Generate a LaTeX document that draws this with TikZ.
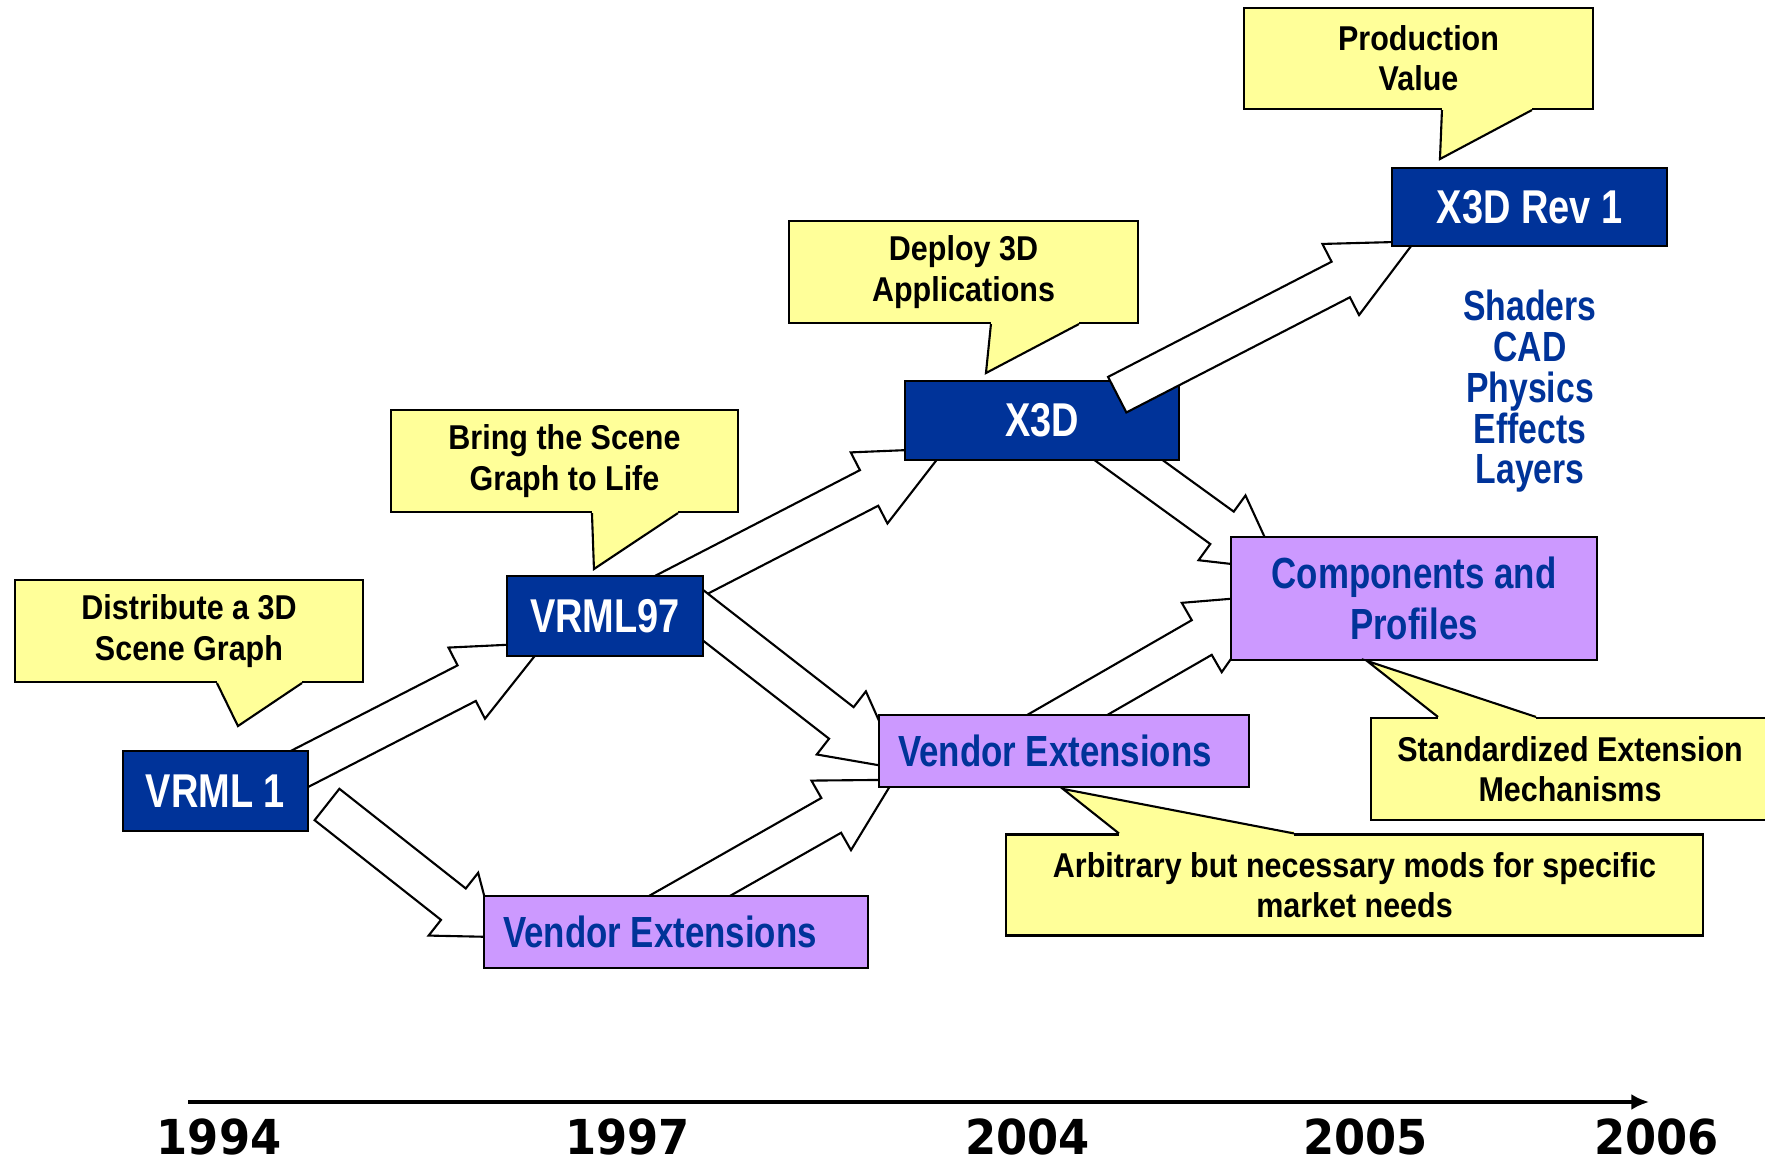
\documentclass[tikz,border=0pt]{standalone}
\usepackage{fontspec}
\usepackage{tikz}
\usetikzlibrary{arrows.meta,positioning,calc}

\newfontfamily\narrowfont{Liberation Sans}[FakeStretch=0.8]
\newfontfamily\notefont{Liberation Sans}[FakeStretch=0.885]
\newfontfamily\yearfont{DejaVu Sans}[FakeStretch=0.93]

\definecolor{stageblue}{HTML}{003399}
\definecolor{extpurple}{HTML}{CC99FF}
\definecolor{noteyellow}{HTML}{FFFF99}

\pgfdeclarelayer{back}
\pgfdeclarelayer{front}
\pgfsetlayers{back,main,front}

\tikzset{
  stagebox/.style={rectangle, draw, line width=0.7pt, fill=stageblue, text=white, inner sep=0pt,
    font=\narrowfont\bfseries\fontsize{13.5}{16}\selectfont},
  extbox/.style={rectangle, draw, line width=0.7pt, fill=extpurple, text=stageblue, inner sep=0pt,
    align=center, font=\narrowfont\bfseries\fontsize{12.4}{14.7}\selectfont},
  notebox/.style={rectangle, draw, line width=0.6pt, fill=noteyellow, inner sep=0pt,
    align=center, font=\notefont\bfseries\fontsize{9.8}{11.5}\selectfont},
  flowarrow/.style={draw, fill=white, line width=0.6pt},
  timeline/.style={line width=0.9pt, -{Latex[length=5pt,width=4.5pt]}},
  yearlabel/.style={anchor=base, inner sep=0pt, font=\yearfont\bfseries\fontsize{13.7}{16}\selectfont},
}

% hollow block arrow: tail, tip, head length
\newcommand{\blockarrow}[3]{%
  \coordinate (ba-s) at #1;
  \coordinate (ba-t) at #2;
  \coordinate (ba-h) at ($(ba-t)!#3!(ba-s)$);
  \draw[flowarrow] ($(ba-s)!0.2cm!90:(ba-t)$) -- ($(ba-h)!0.2cm!-90:(ba-s)$)
    -- ($(ba-h)!0.4cm!-90:(ba-s)$) -- (ba-t) -- ($(ba-h)!0.4cm!90:(ba-s)$)
    -- ($(ba-h)!0.2cm!90:(ba-s)$) -- ($(ba-s)!0.2cm!-90:(ba-t)$) -- cycle;
}

% pointer of a yellow note: base, tip, base
\newcommand{\notepointer}[3]{%
  \fill[noteyellow] #1 -- #2 -- #3 -- cycle;
  \draw[noteyellow, line width=1.2pt] #1 -- #3;
  \draw[line width=0.6pt] #1 -- #2 -- #3;
}

\begin{document}
\begin{tikzpicture}
\useasboundingbox (0,0) rectangle (17.65,11.61);

\node[stagebox, minimum width=1.85cm, minimum height=0.8cm] (vrmlone) at (2.155,3.70) {VRML 1};
\node[stagebox, minimum width=1.96cm, minimum height=0.8cm] (vrmlnine) at (6.05,5.45) {VRML97};
\node[stagebox, minimum width=2.74cm, minimum height=0.79cm] (xthreed) at (10.42,7.405) {X3D};
\begin{pgfonlayer}{front}
\node[stagebox, minimum width=2.75cm, minimum height=0.78cm] (xrev) at (15.295,9.54) {X3D Rev 1};
\end{pgfonlayer}
\node[extbox, minimum width=3.66cm, minimum height=1.23cm] (profiles) at (14.14,5.625) {Components and\\Profiles};
\node[extbox, minimum width=3.70cm, minimum height=0.72cm] (vendmid) at (10.64,4.10) {\hspace*{-0.18cm}Vendor Extensions};
\node[extbox, minimum width=3.84cm, minimum height=0.72cm] (vendlow) at (6.76,2.29) {\hspace*{-0.32cm}Vendor Extensions};

\node[text=stageblue, align=center, font=\narrowfont\bfseries\fontsize{12}{11.6}\selectfont] (features) at (15.30,7.695)
  {Shaders\\CAD\\Physics\\Effects\\Layers};

\node[notebox, minimum width=3.48cm, minimum height=1.02cm] (distrib) at (1.89,5.30) {Distribute a 3D\\Scene Graph};
\notepointer{($(distrib.south west)+(2.03,0)$)}{($(distrib.south west)+(2.24,-0.43)$)}{($(distrib.south west)+(2.88,0)$)}
\node[notebox, minimum width=3.47cm, minimum height=1.02cm] (bringlife) at (5.645,7.00) {Bring the Scene\\Graph to Life};
\notepointer{($(bringlife.south west)+(2.02,0)$)}{($(bringlife.south west)+(2.04,-0.56)$)}{($(bringlife.south west)+(2.88,0)$)}
\node[notebox, minimum width=3.49cm, minimum height=1.02cm] (deploy) at (9.635,8.89) {Deploy 3D\\Applications};
\notepointer{($(deploy.south west)+(2.03,0)$)}{($(deploy.south west)+(1.98,-0.49)$)}{($(deploy.south west)+(2.91,0)$)}
\node[notebox, minimum width=3.49cm, minimum height=1.01cm] (prodval) at (14.185,11.025) {Production\\Value};
\notepointer{($(prodval.south west)+(1.99,0)$)}{($(prodval.south west)+(1.97,-0.49)$)}{($(prodval.south west)+(2.89,0)$)}
\node[notebox, minimum width=3.98cm, minimum height=1.02cm] (stdext) at (15.70,3.92) {Standardized Extension\\Mechanisms};
\notepointer{($(stdext.north west)+(0.68,0)$)}{($(stdext.north west)+(-0.03,0.56)$)}{($(stdext.north west)+(1.66,0)$)}
\node[notebox, minimum width=6.97cm, minimum height=1.01cm] (arbmods) at (13.545,2.76) {Arbitrary but necessary mods for specific\\market needs};
\notepointer{($(arbmods.north west)+(1.14,0)$)}{($(arbmods.north west)+(0.58,0.445)$)}{($(arbmods.north west)+(2.89,0)$)}

\begin{pgfonlayer}{back}
\blockarrow{($(vrmlone)+(0.625,0.11)$)}{($(vrmlnine)+(-0.60,-0.27)$)}{0.88cm}
\blockarrow{($(vrmlone)+(1.115,-0.135)$)}{($(vendlow)+(-1.81,-0.05)$)}{0.53cm}
\blockarrow{($(vendlow)+(-0.464,0.02)$)}{($(vendmid)+(-1.702,-0.288)$)}{0.72cm}
\blockarrow{($(vrmlnine)+(0.47,0.16)$)}{($(xthreed)+(-0.965,-0.28)$)}{0.86cm}
\blockarrow{($(vrmlnine)+(0.752,0.185)$)}{($(vendmid)+(-1.635,-0.18)$)}{0.75cm}
\blockarrow{($(xthreed)+(0.512,-0.14)$)}{($(profiles)+(-1.345,0.29)$)}{0.71cm}
\blockarrow{($(vendmid)+(-0.746,-0.088)$)}{($(profiles)+(-1.386,0.034)$)}{0.85cm}
\end{pgfonlayer}
\blockarrow{($(xthreed)+(0.752,0.258)$)}{($(xrev)+(-1.15,-0.345)$)}{0.83cm}

\coordinate (tstart) at (1.88,0.59);
\coordinate (tend) at (16.49,0.59);
\draw[timeline] (tstart) -- (tend);
\node[yearlabel] (y94) at (2.19,0.07) {1994};
\node[yearlabel] (y97) at (6.275,0.07) {1997};
\node[yearlabel] (y04) at (10.277,0.07) {2004};
\node[yearlabel] (y05) at (13.654,0.07) {2005};
\node[yearlabel] (y06) at (16.563,0.07) {2006};
\end{tikzpicture}
\end{document}
